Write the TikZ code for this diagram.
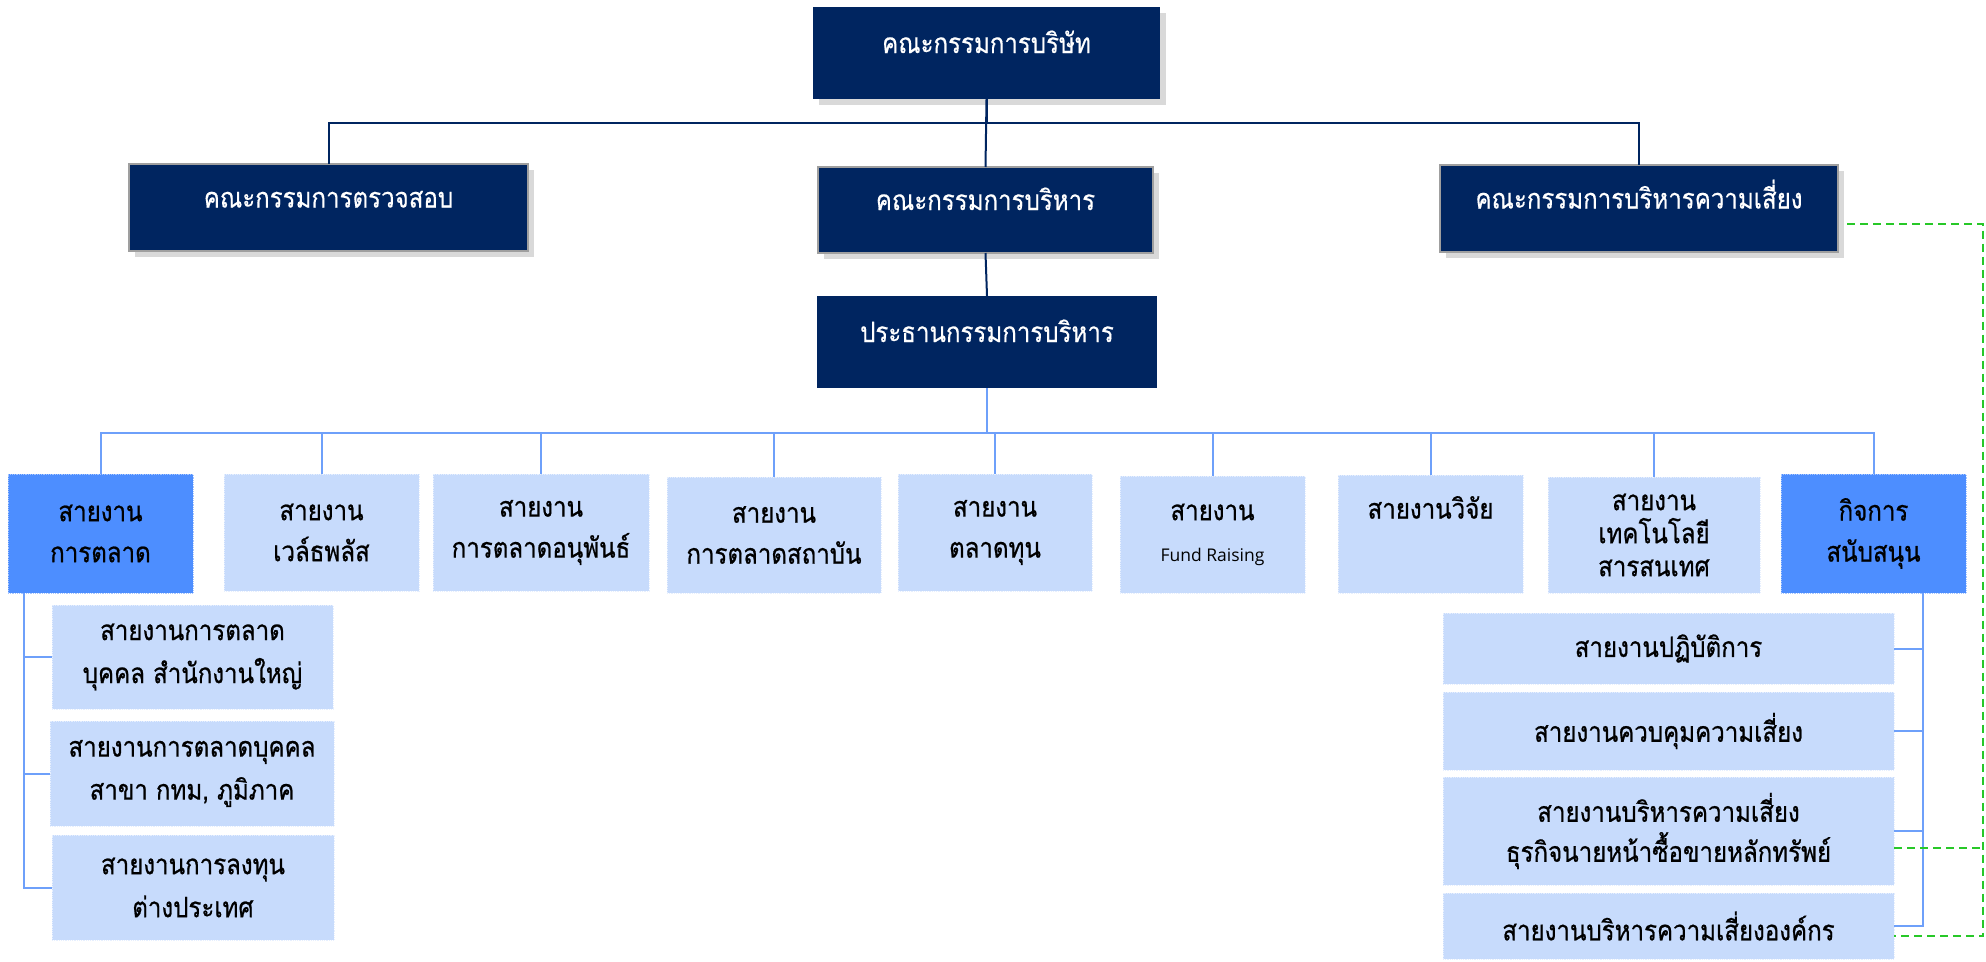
\documentclass[tikz,border=0pt]{standalone}
\usepackage{fontspec}
\setmainfont[Script=Thai, FakeStretch=0.86, FakeBold=0.4]{Loma}
\newfontfamily\unitfont[Script=Thai, FakeStretch=0.86, FakeBold=0.7]{Loma}
\newfontfamily\latinfont{Open Sans}
\usetikzlibrary{positioning, shadows}
\definecolor{boardnavy}{RGB}{0,37,96}
\definecolor{unitpale}{RGB}{199,219,252}
\definecolor{unitbright}{RGB}{77,142,255}
\definecolor{unitline}{RGB}{110,160,250}
\definecolor{riskgreen}{RGB}{40,200,40}
\tikzset{
  x=1pt, y=-1pt,
  box/.style={anchor=north west, inner sep=0pt, outer sep=0pt, align=center},
  navy/.style={box, fill=boardnavy, text=white,
    font=\fontsize{28}{34}\selectfont, text height=10pt, text depth=10pt},
  framed/.style={navy, draw=gray!75, line width=1.2pt,
    drop shadow={shadow xshift=6pt, shadow yshift=-6pt, fill=black!15, opacity=1}},
  unit/.style={box, fill=unitpale, draw=white!55!unitpale, densely dotted,
    line width=0.8pt, font=\unitfont\fontsize{28}{41}\selectfont},
  hub/.style={unit, fill=unitbright, draw=white!50!unitbright},
  navyline/.style={draw=boardnavy, line width=2pt},
  unitlink/.style={draw=unitline, line width=2pt},
  risklink/.style={draw=riskgreen, line width=2pt, dash pattern=on 8pt off 5pt},
}

\begin{document}
\begin{tikzpicture}
  \useasboundingbox (0,0) rectangle (1986,961);

  % boards
  \node[navy, drop shadow={shadow xshift=6pt, shadow yshift=-6pt, fill=black!15, opacity=1},
    minimum width=347pt, minimum height=92pt] (board) at (813,7) {คณะกรรมการบริษัท};
  \node[framed, minimum width=399pt, minimum height=87pt] (audit) at (129,164) {คณะกรรมการตรวจสอบ};
  \node[framed, minimum width=335pt, minimum height=86pt] (exec) at (818,167) {คณะกรรมการบริหาร};
  \node[framed, minimum width=398pt, minimum height=87pt] (risk) at (1440,165) {คณะกรรมการบริหารความเสี่ยง};
  \node[navy, minimum width=340pt, minimum height=92pt] (ceo) at (817,296) {ประธานกรรมการบริหาร};

  % divisions
  \node[hub, minimum width=185pt, minimum height=119pt] (d1) at (8,474) {สายงาน\\การตลาด};
  \node[unit, minimum width=195pt, minimum height=117pt] (d2) at (224,474) {สายงาน\\เวล์ธพลัส};
  \node[unit, minimum width=216pt, minimum height=117pt] (d3) at (433,474) {สายงาน\\การตลาดอนุพันธ์};
  \node[unit, minimum width=214pt, minimum height=116pt] (d4) at (667,477) {สายงาน\\การตลาดสถาบัน};
  \node[unit, minimum width=194pt, minimum height=117pt] (d5) at (898,474) {สายงาน\\ตลาดทุน};
  \node[unit, minimum width=185pt, minimum height=117pt] (d6) at (1120,476)
    {สายงาน\\{\latinfont\fontsize{17.5}{20}\selectfont Fund Raising}};
  \node[unit, minimum width=185pt, minimum height=118pt] (d7) at (1338,475) {สายงานวิจัย\\\strut};
  \node[unit, minimum width=212pt, minimum height=116pt, font=\unitfont\fontsize{28}{33}\selectfont]
    (d8) at (1548,477) {สายงาน\\เทคโนโลยี\\สารสนเทศ};
  \node[hub, minimum width=185pt, minimum height=119pt] (d9) at (1781,474) {กิจการ\\สนับสนุน};

  % sub units
  \node[unit, minimum width=281pt, minimum height=104pt, font=\unitfont\fontsize{28}{43}\selectfont]
    (m1) at (52,605) {สายงานการตลาด\\บุคคล สำนักงานใหญ่};
  \node[unit, minimum width=284pt, minimum height=105pt, font=\unitfont\fontsize{28}{43}\selectfont]
    (m2) at (50,721) {สายงานการตลาดบุคคล\\สาขา กทม, ภูมิภาค};
  \node[unit, minimum width=282pt, minimum height=105pt, font=\unitfont\fontsize{28}{43}\selectfont]
    (m3) at (52,835) {สายงานการลงทุน\\ต่างประเทศ};
  \node[unit, minimum width=451pt, minimum height=71pt] (s1) at (1443,613) {สายงานปฏิบัติการ};
  \node[unit, minimum width=451pt, minimum height=78pt] (s2) at (1443,692) {สายงานควบคุมความเสี่ยง};
  \node[unit, minimum width=451pt, minimum height=108pt, font=\unitfont\fontsize{28}{40}\selectfont]
    (s3) at (1443,777) {สายงานบริหารความเสี่ยง\\ธุรกิจนายหน้าซื้อขายหลักทรัพย์};
  \node[unit, minimum width=451pt, minimum height=66pt] (s4) at (1443,893) {สายงานบริหารความเสี่ยงองค์กร};

  % links
  \draw[navyline] (board.south) -- ++(0,24) coordinate (bus) -| (audit.north);
  \draw[navyline] (bus) -| (risk.north);
  \draw[navyline] (board.south) -- (exec.north);
  \draw[navyline] (exec.south) -- (ceo.north);
  \draw[unitlink] (ceo.south) -- ++(0,45) coordinate (rail);
  \foreach \d in {d1,d2,d3,d4,d5,d6,d7,d8,d9}
    \draw[unitlink] (rail) -| (\d.north);
  \foreach \m in {m1,m2,m3}
    \draw[unitlink] ([xshift=16pt]d1.south west) |- (\m.west);
  \foreach \s in {s1,s2,s3,s4}
    \draw[unitlink] ([xshift=-43pt]d9.south east) |- (\s.east);
  \coordinate (gturn) at ([xshift=145pt,yshift=-15pt]risk.east);
  \draw[risklink] ([xshift=9pt,yshift=-15pt]risk.east) -- (gturn) |- ([yshift=-10pt]s4.east);
  \draw[risklink] ([yshift=-17pt]s3.east) -- ++(89,0);
\end{tikzpicture}
\end{document}
